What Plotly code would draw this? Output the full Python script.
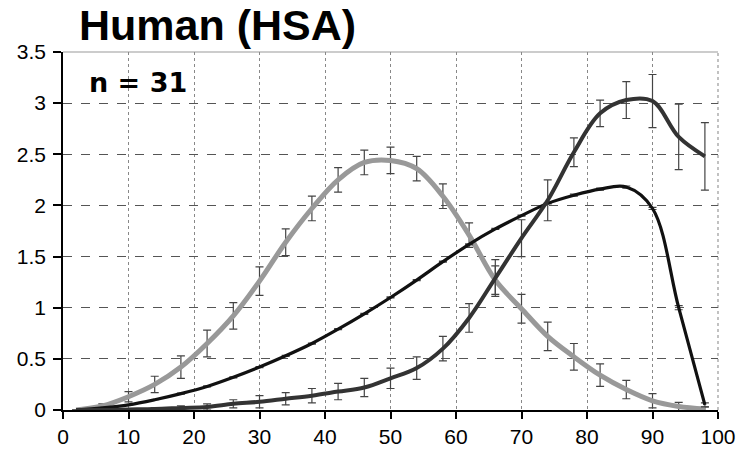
import plotly.graph_objects as go

x_vals = [2, 6, 10, 14, 18, 22, 26, 30, 34, 38, 42, 46, 50, 54, 58, 62, 66, 70, 74, 78, 82, 86, 90, 94, 98]

gray_vals = [0.0, 0.04, 0.13, 0.25, 0.42, 0.65, 0.92, 1.26, 1.64, 1.97, 2.25, 2.42, 2.44, 2.36, 2.09, 1.71,
             1.27, 0.99, 0.72, 0.52, 0.34, 0.2, 0.09, 0.035, 0.01]
gray_err = [0, 0.02, 0.05, 0.08, 0.11, 0.13, 0.13, 0.14, 0.13, 0.12, 0.12, 0.12, 0.13, 0.12, 0.12, 0.12,
            0.14, 0.14, 0.14, 0.13, 0.11, 0.09, 0.07, 0.04, 0.02]

black_vals = [0.0, 0.02, 0.05, 0.1, 0.16, 0.23, 0.32, 0.42, 0.53, 0.65, 0.79, 0.94, 1.1, 1.27, 1.45, 1.62,
              1.77, 1.9, 2.02, 2.1, 2.16, 2.18, 1.97, 1.0, 0.05]
black_err = [0, 0, 0, 0, 0.005, 0.005, 0.005, 0.005, 0.005, 0.005, 0.005, 0.005, 0.005, 0.005, 0.005, 0.005,
             0.005, 0.005, 0.005, 0.01, 0.01, 0.01, 0.01, 0.02, 0.02]

dark_vals = [0.0, 0.0, 0.005, 0.01, 0.02, 0.03, 0.06, 0.08, 0.11, 0.14, 0.18, 0.22, 0.31, 0.41, 0.6, 0.9,
             1.29, 1.68, 2.05, 2.52, 2.9, 3.03, 3.02, 2.67, 2.48]
dark_err = [0, 0, 0, 0.01, 0.02, 0.03, 0.04, 0.06, 0.06, 0.07, 0.08, 0.09, 0.1, 0.11, 0.12, 0.14,
            0.18, 0.18, 0.2, 0.14, 0.13, 0.18, 0.26, 0.32, 0.33]

x_ticks = [0, 10, 20, 30, 40, 50, 60, 70, 80, 90, 100]
y_ticks = [0, 0.5, 1, 1.5, 2, 2.5, 3, 3.5]
y_tick_labels = ["0", "0.5", "1", "1.5", "2", "2.5", "3", "3.5"]

title_text = "Human (HSA)"
n_text = "n = 31"

fig = go.Figure()


def add_series(yv, err, color, width):
    fig.add_trace(go.Scatter(
        x=x_vals, y=yv, mode="lines",
        line=dict(color=color, width=width, shape="spline", smoothing=1.0),
        error_y=dict(type="data", array=err, visible=True, color="#444444", thickness=1.2, width=4),
        showlegend=False, hoverinfo="skip",
    ))


add_series(gray_vals, gray_err, "#999999", 5)
add_series(black_vals, black_err, "#111111", 3.2)
add_series(dark_vals, dark_err, "#333333", 4)

fig.update_layout(
    width=737, height=454,
    margin=dict(l=63, r=19, t=52, b=44, autoexpand=False),
    paper_bgcolor="white", plot_bgcolor="white",
    font=dict(family="Liberation Sans, Arial, sans-serif", color="black"),
    showlegend=False,
)

fig.update_xaxes(
    range=[0, 100], tickvals=x_ticks, ticktext=[str(v) for v in x_ticks],
    showline=True, linecolor="black", linewidth=1.5,
    ticks="outside", ticklen=7, tickcolor="black", tickwidth=1.5,
    showgrid=True, gridcolor="#888888", gridwidth=1, griddash="dot",
    zeroline=False, tickfont=dict(size=21), fixedrange=True, automargin=False,
)
fig.update_yaxes(
    range=[0, 3.5], tickvals=y_ticks, ticktext=y_tick_labels,
    showline=True, linecolor="black", linewidth=1.5,
    ticks="outside", ticklen=8, tickcolor="black", tickwidth=1.5,
    showgrid=True, gridcolor="#555555", gridwidth=1, griddash="dash",
    zeroline=False, tickfont=dict(size=21), ticklabelstandoff=3,
    fixedrange=True, automargin=False,
)

# top border (solid light gray) and right border (dotted gray)
fig.add_shape(type="line", xref="paper", yref="paper", x0=0, x1=1, y0=1, y1=1,
              line=dict(color="#bbbbbb", width=1.5), layer="below")
fig.add_shape(type="line", xref="paper", yref="paper", x0=1, x1=1, y0=0, y1=1,
              line=dict(color="#999999", width=1.2, dash="dot"), layer="below")

fig.add_annotation(text="<b>" + title_text + "</b>", xref="paper", yref="paper",
                   x=0.0229, y=1.1453, xanchor="left", yanchor="top", borderpad=0,
                   showarrow=False, font=dict(size=43, family="Liberation Sans, Arial, sans-serif"))
fig.add_annotation(text="<b>" + n_text + "</b>", xref="x", yref="y",
                   x=3.6, y=3.2, xanchor="left", yanchor="middle",
                   showarrow=False, font=dict(size=27, family="DejaVu Sans, sans-serif"))

fig.write_html("out.html")
